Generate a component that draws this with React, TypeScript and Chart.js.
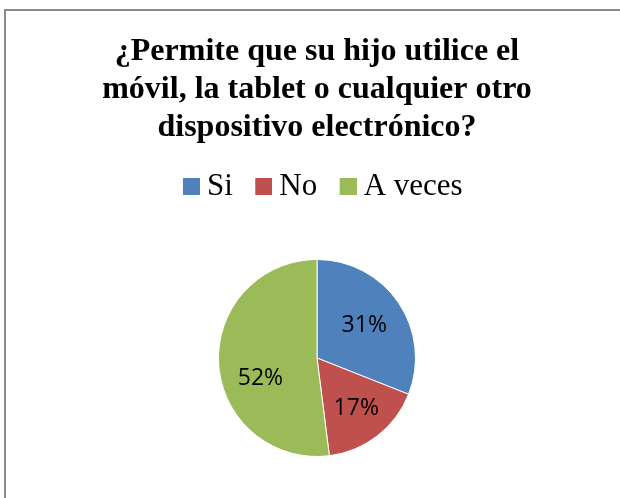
import React, { useEffect, useRef } from "react";
import { Chart, registerables } from "chart.js";

Chart.register(...registerables);

const titleLines = [
  "¿Permite que su hijo utilice el",
  "móvil, la tablet o cualquier otro",
  "dispositivo electrónico?",
];
const categories = ["Si", "No", "A veces"];
const values = [31, 17, 52];
const colors = ["#4F81BD", "#C0504D", "#9BBB59"];
const labelRadius = [0.58, 0.65, 0.61];
const labelAngleShift = [0, 0, -16];

const BOX = 17;
const STYLE_W = 20;

function makeSwatch(color: string) {
  const c = document.createElement("canvas");
  c.width = STYLE_W + BOX;
  c.height = BOX;
  const g = c.getContext("2d")!;
  g.fillStyle = color;
  g.fillRect(STYLE_W, 0, BOX, BOX);
  return c;
}

const pctLabels = {
  id: "pctLabels",
  afterDatasetsDraw(chart: any) {
    const ctx = chart.ctx;
    const meta = chart.getDatasetMeta(0);
    const data = chart.data.datasets[0].data as number[];
    const total = data.reduce((a: number, b: number) => a + b, 0);
    ctx.save();
    ctx.font = "23px 'Open Sans', 'Liberation Sans', sans-serif";
    ctx.fillStyle = "#000";
    ctx.textAlign = "center";
    ctx.textBaseline = "middle";
    meta.data.forEach((arc: any, i: number) => {
      const p = arc.getProps(["x", "y", "startAngle", "endAngle", "outerRadius"], true);
      const mid = (p.startAngle + p.endAngle) / 2 + (labelAngleShift[i] * Math.PI) / 180;
      const d = p.outerRadius * labelRadius[i];
      const x = p.x + Math.cos(mid) * d;
      const y = p.y + Math.sin(mid) * d;
      ctx.fillText(Math.round((data[i] / total) * 100) + "%", x, y);
    });
    ctx.restore();
  },
};

export default function App() {
  const ref = useRef<HTMLCanvasElement>(null);
  useEffect(() => {
    const swatches = colors.map(makeSwatch);
    const chart = new Chart(ref.current!, {
      type: "pie",
      data: {
        labels: categories,
        datasets: [
          {
            data: values,
            backgroundColor: colors,
            borderColor: "#ffffff",
            borderWidth: 1,
            radius: 98.5,
          },
        ],
      },
      options: {
        animation: false,
        responsive: false,
        maintainAspectRatio: false,
        layout: { padding: { left: 14, right: 0, top: 0, bottom: 16 } },
        plugins: {
          title: {
            display: true,
            text: titleLines,
            color: "#000",
            font: { family: "'Liberation Serif', 'Times New Roman', serif", size: 32, weight: "bold", lineHeight: 38 / 32 },
            padding: { top: 33, bottom: 13 },
          },
          legend: {
            display: true,
            position: "top",
            labels: {
              color: "#000",
              font: { family: "'Liberation Serif', 'Times New Roman', serif", size: 31 },
              boxWidth: BOX,
              boxHeight: BOX,
              usePointStyle: true,
              pointStyleWidth: STYLE_W,
              padding: 11,
              generateLabels: (chart: any) => {
                const items = Chart.overrides.pie.plugins.legend.labels.generateLabels(chart);
                return items.map((it: any, i: number) => ({ ...it, pointStyle: swatches[i], lineWidth: 0 }));
              },
            },
          },
          tooltip: { enabled: false },
        },
      },
      plugins: [pctLabels],
    });
    return () => chart.destroy();
  }, []);
  return (
    <div style={{ position: "fixed", left: 0, top: 0, width: 620, height: 498, overflow: "hidden", background: "#fff" }}>
      <div
        style={{
          position: "absolute",
          left: 4,
          top: 9,
          width: 700,
          height: 600,
          borderLeft: "2px solid #8a8a8a",
          borderTop: "2px solid #8a8a8a",
        }}
      />
      <canvas ref={ref} width={620} height={520} style={{ position: "absolute", left: 0, top: 0, width: 620, height: 520 }} />
    </div>
  );
}
